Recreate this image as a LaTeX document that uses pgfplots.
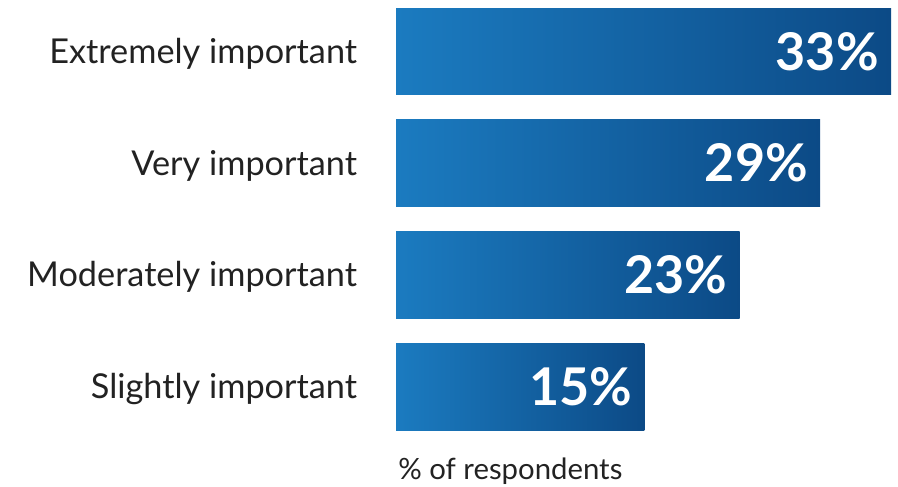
\documentclass[border=0pt]{standalone}
\usepackage{pgfplots}
\pgfplotsset{compat=1.18}
\usepackage{fontspec}
\setmainfont{Lato}
\definecolor{barL}{HTML}{1B7BC0}
\definecolor{barR}{HTML}{0C4A86}
\definecolor{txt}{HTML}{222222}
\begin{document}
\begin{tikzpicture}
\path[use as bounding box] (0,0) rectangle (673.5pt,364.5pt);
\begin{axis}[
  at={(297pt,42pt)}, anchor=south west,
  scale only axis, width=371.25pt, height=316.5pt,
  xbar, bar width=65.25pt, bar shift=0pt,
  xmin=0, xmax=33,
  ymin=0.6106, ymax=4.3894, y dir=reverse,
  axis line style={draw=none}, major tick length=0pt,
  xtick=\empty,
  ytick={1,2,3,4},
  yticklabels={Extremely important, Very important, Moderately important, Slightly important},
  yticklabel style={anchor=base east, inner sep=0pt, xshift=-29pt, yshift=-9pt, font=\fontsize{25.7}{30}\selectfont, text=txt},
  point meta=explicit symbolic,
  nodes near coords,
  every node near coord/.append style={anchor=base east, inner sep=0pt, xshift=-9pt, yshift=-14pt, text=white, font=\bfseries\fontsize{39}{44}\selectfont},
]
\addplot[draw=none, left color=barL, right color=barR] coordinates {(33,1) [33\%]};
\addplot[draw=none, left color=barL, right color=barR] coordinates {(28.27,2) [29\%]};
\addplot[draw=none, left color=barL, right color=barR] coordinates {(22.9,3) [23\%]};
\addplot[draw=none, left color=barL, right color=barR] coordinates {(16.56,4) [15\%]};
\end{axis}
\node[anchor=base west, inner sep=0pt, text=txt, font=\fontsize{22}{27}\selectfont] at (298.5pt,5pt) {\% of respondents};
\end{tikzpicture}
\end{document}
